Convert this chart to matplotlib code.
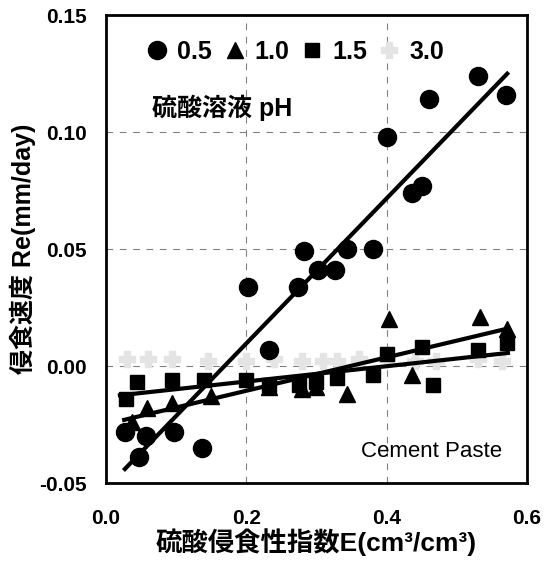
import matplotlib
matplotlib.use("Agg")
import matplotlib.pyplot as plt

plt.rcParams['font.family'] = ['Liberation Sans', 'Noto Sans CJK JP']

# pH 0.5
x05 = [0.027, 0.047, 0.057, 0.097, 0.137, 0.203, 0.233, 0.274, 0.283, 0.302,
       0.327, 0.344, 0.380, 0.401, 0.436, 0.451, 0.461, 0.530, 0.570]
y05 = [-0.028, -0.039, -0.030, -0.028, -0.035, 0.034, 0.007, 0.034, 0.049, 0.041,
       0.041, 0.050, 0.050, 0.098, 0.074, 0.077, 0.114, 0.124, 0.116]
# pH 1.0
x10 = [0.037, 0.059, 0.094, 0.150, 0.233, 0.280, 0.300, 0.343, 0.404, 0.436, 0.533, 0.571]
y10 = [-0.024, -0.018, -0.016, -0.013, -0.009, -0.010, -0.009, -0.012, 0.020, -0.004, 0.021, 0.016]
# pH 1.5
x15 = [0.029, 0.044, 0.094, 0.140, 0.200, 0.233, 0.275, 0.300, 0.330, 0.380,
       0.401, 0.451, 0.466, 0.530, 0.571]
y15 = [-0.014, -0.007, -0.006, -0.006, -0.006, -0.008, -0.008, -0.007, -0.005, -0.004,
       0.005, 0.008, -0.008, 0.007, 0.010]
# pH 3.0
x30 = [0.030, 0.060, 0.094, 0.145, 0.200, 0.240, 0.280, 0.310, 0.330, 0.360,
       0.400, 0.440, 0.470, 0.530, 0.565]
y30 = [0.003, 0.003, 0.003, 0.002, 0.002, 0.003, 0.002, 0.002, 0.002, 0.003,
       0.003, 0.002, 0.002, 0.003, 0.002]

# trend lines (end points)
line05_x = [0.027, 0.572]
line05_y = [-0.044, 0.125]
line10_x = [0.026, 0.565]
line10_y = [-0.023, 0.0155]
line15_x = [0.020, 0.573]
line15_y = [-0.0125, 0.0056]

fig = plt.figure(figsize=(5.46, 5.64), dpi=100)
ax = fig.add_axes([0.194, 0.1436, 0.771, 0.8294])

ax.plot(line05_x, line05_y, color='black', lw=3, zorder=4)
ax.plot(line10_x, line10_y, color='black', lw=3, zorder=4)
ax.plot(line15_x, line15_y, color='black', lw=3, zorder=4)

ax.plot(x30, y30, 'P', color='#e4e4e4', ms=12, ls='none', label='3.0', zorder=2)
ax.plot(x05, y05, 'o', color='black', ms=13, ls='none', label='0.5', zorder=3)
ax.plot(x10, y10, '^', color='black', ms=12, ls='none', label='1.0', zorder=3)
ax.plot(x15, y15, 's', color='black', ms=10, ls='none', label='1.5', zorder=3)

ax.set_xlim(0, 0.6)
ax.set_ylim(-0.05, 0.15)
ax.set_xticks([0.0, 0.2, 0.4, 0.6])
ax.set_yticks([-0.05, 0.0, 0.05, 0.10, 0.15])
ax.set_xticklabels(['0.0', '0.2', '0.4', '0.6'], fontsize=15, fontweight='bold')
ax.set_yticklabels(['-0.05', '0.00', '0.05', '0.10', '0.15'], fontsize=15, fontweight='bold')
ax.tick_params(axis='x', length=0, pad=19)
ax.tick_params(axis='y', length=0, pad=14)

for v in [0.2, 0.4]:
    ax.axvline(v, color='gray', lw=0.8, ls=(0, (6, 6)), zorder=1)
for v in [0.0, 0.05, 0.10]:
    ax.axhline(v, color='gray', lw=0.8, ls=(0, (6, 6)), zorder=1)

for s in ax.spines.values():
    s.set_linewidth(2)

handles, labels = ax.get_legend_handles_labels()
order = [1, 2, 3, 0]
ax.legend([handles[i] for i in order], [labels[i] for i in order],
          ncol=4, loc='upper left', bbox_to_anchor=(0.045, 0.995), frameon=False,
          prop={'size': 18, 'weight': 'bold'}, handlelength=0.8,
          handletextpad=0.4, columnspacing=0.5, markerscale=1.0)

ax.text(0.11, 0.785, '硫酸溶液 pH', transform=ax.transAxes, fontsize=18,
        fontweight='bold')
ax.text(0.94, 0.055, 'Cement Paste', transform=ax.transAxes, fontsize=16,
        ha='right')

ax.set_xlabel('硫酸侵食性指数E(cm³/cm³)', fontsize=19, fontweight='bold', labelpad=0)
ax.set_ylabel('侵食速度 Re(mm/day)', fontsize=18, fontweight='bold', labelpad=2)

fig.savefig('out.png', dpi=100)
